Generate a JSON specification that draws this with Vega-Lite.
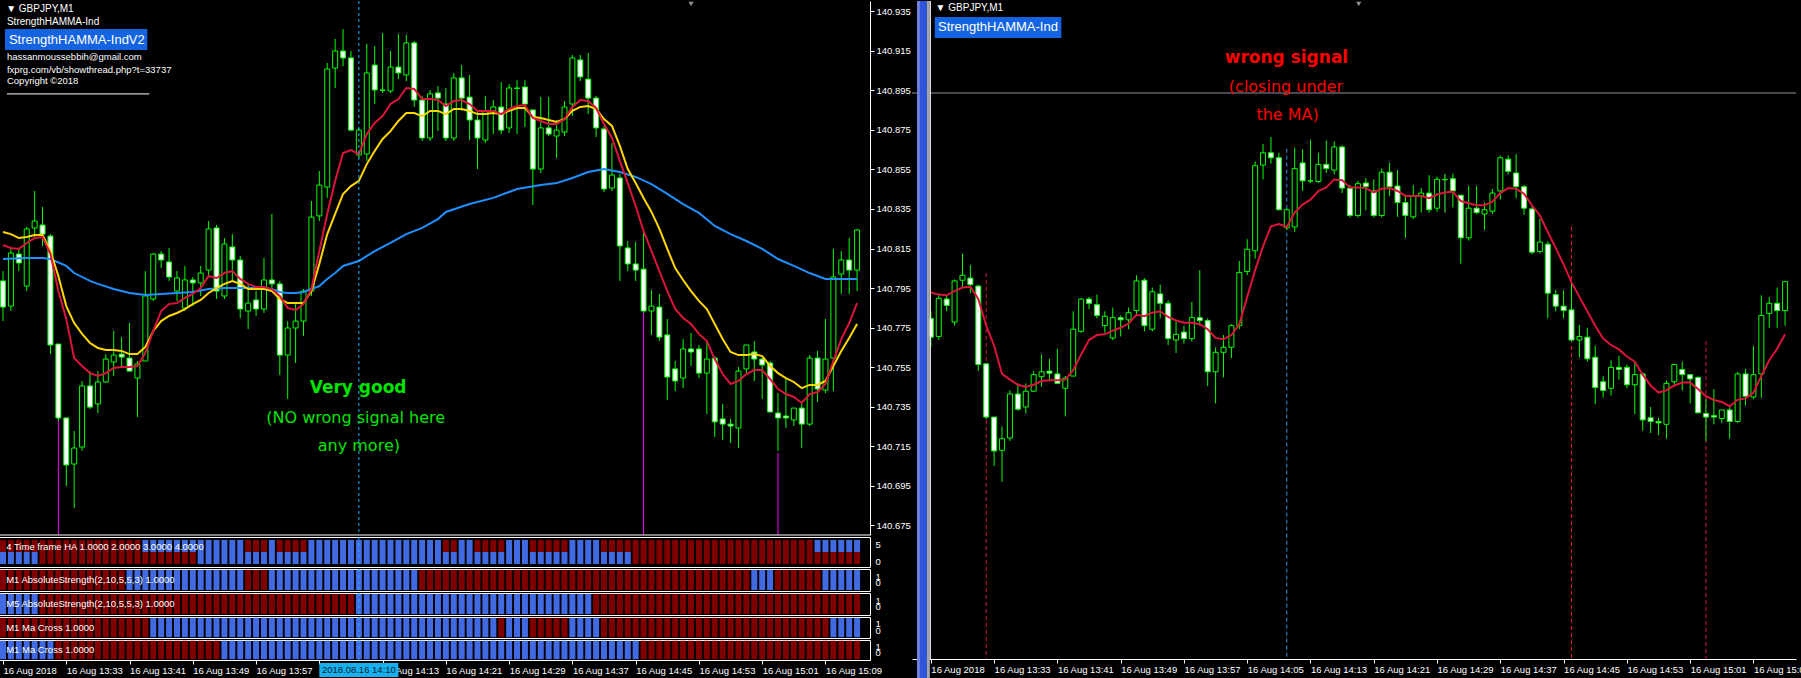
{
"$schema": "https://vega.github.io/schema/vega-lite/v6.json",
"background": "black",
"padding": {"left": -3, "top": 0, "right": 0, "bottom": 0},
"spacing": 0,
"config": {
  "view": {"stroke": null},
  "axis": {"grid": false, "labelColor": "white", "labelFont": "Liberation Sans", "labelFontSize": 9.5, "domainColor": "white", "tickColor": "white", "title": null},
  "text": {"font": "Liberation Sans"}
},
"datasets": {
"c": [
{"i":0,"o":140.7986,"h":140.8036,"l":140.7783,"c":140.7854,"u":"R","w":"B","p":"R","q":"B","r":"R","t":"B"},
{"i":1,"o":140.7859,"h":140.8153,"l":140.7834,"c":140.8127,"u":"R","w":"B","p":"R","q":"B","r":"R","t":"B"},
{"i":2,"o":140.8122,"h":140.8153,"l":140.8036,"c":140.8077,"u":"R","w":"B","p":"R","q":"B","r":"R","t":"B"},
{"i":3,"o":140.7960,"h":140.8259,"l":140.7935,"c":140.8249,"u":"R","w":"B","p":"R","q":"B","r":"R","t":"B"},
{"i":4,"o":140.8254,"h":140.8441,"l":140.8203,"c":140.8289,"u":"R","w":"B","p":"R","q":"B","r":"R","t":"B"},
{"i":5,"o":140.8269,"h":140.8360,"l":140.8163,"c":140.8223,"u":"R","w":"R","p":"R","q":"R","r":"R","t":"B"},
{"i":6,"o":140.8213,"h":140.8223,"l":140.7616,"c":140.7662,"u":"R","w":"R","p":"R","q":"R","r":"R","t":"B"},
{"i":7,"o":140.7667,"h":140.7667,"l":140.7278,"c":140.7293,"u":"R","w":"R","p":"R","q":"R","r":"R","t":"R"},
{"i":8,"o":140.7293,"h":140.7293,"l":140.6949,"c":140.7055,"u":"R","w":"R","p":"R","q":"R","r":"R","t":"R"},
{"i":9,"o":140.7060,"h":140.7227,"l":140.6838,"c":140.7141,"u":"R","w":"R","p":"R","q":"R","r":"R","t":"R"},
{"i":10,"o":140.7146,"h":140.7480,"l":140.7126,"c":140.7455,"u":"R","w":"R","p":"R","q":"R","r":"R","t":"R"},
{"i":11,"o":140.7455,"h":140.7530,"l":140.7338,"c":140.7348,"u":"R","w":"R","p":"R","q":"R","r":"R","t":"R"},
{"i":12,"o":140.7364,"h":140.7530,"l":140.7318,"c":140.7475,"u":"R","w":"R","p":"R","q":"R","r":"R","t":"R"},
{"i":13,"o":140.7475,"h":140.7616,"l":140.7470,"c":140.7591,"u":"R","w":"R","p":"R","q":"R","r":"R","t":"R"},
{"i":14,"o":140.7576,"h":140.7733,"l":140.7505,"c":140.7611,"u":"R","w":"R","p":"R","q":"R","r":"R","t":"R"},
{"i":15,"o":140.7616,"h":140.7702,"l":140.7556,"c":140.7601,"u":"R","w":"R","p":"R","q":"R","r":"R","t":"R"},
{"i":16,"o":140.7596,"h":140.7773,"l":140.7530,"c":140.7530,"u":"R","w":"R","p":"B","q":"R","r":"R","t":"R"},
{"i":17,"o":140.7495,"h":140.7581,"l":140.7298,"c":140.7566,"u":"R","w":"R","p":"B","q":"R","r":"R","t":"R"},
{"i":18,"o":140.7581,"h":140.8036,"l":140.7581,"c":140.7910,"u":"B","w":"R","p":"B","q":"R","r":"R","t":"R"},
{"i":19,"o":140.7895,"h":140.8127,"l":140.7885,"c":140.8122,"u":"B","w":"R","p":"B","q":"R","r":"B","t":"R"},
{"i":20,"o":140.8122,"h":140.8137,"l":140.8051,"c":140.8092,"u":"B","w":"R","p":"B","q":"R","r":"B","t":"R"},
{"i":21,"o":140.8082,"h":140.8153,"l":140.7986,"c":140.8006,"u":"B","w":"R","p":"B","q":"R","r":"B","t":"R"},
{"i":22,"o":140.7935,"h":140.8036,"l":140.7885,"c":140.8001,"u":"B","w":"R","p":"B","q":"R","r":"B","t":"R"},
{"i":23,"o":140.7849,"h":140.8062,"l":140.7834,"c":140.7991,"u":"B","w":"R","p":"B","q":"R","r":"B","t":"R"},
{"i":24,"o":140.7991,"h":140.8006,"l":140.7859,"c":140.7976,"u":"B","w":"R","p":"B","q":"R","r":"B","t":"R"},
{"i":25,"o":140.7976,"h":140.8062,"l":140.7910,"c":140.8026,"u":"B","w":"B","p":"B","q":"R","r":"B","t":"R"},
{"i":26,"o":140.8041,"h":140.8289,"l":140.8001,"c":140.8249,"u":"B","w":"B","p":"B","q":"R","r":"B","t":"R"},
{"i":27,"o":140.8254,"h":140.8269,"l":140.7895,"c":140.7935,"u":"B","w":"B","p":"B","q":"R","r":"B","t":"R"},
{"i":28,"o":140.7910,"h":140.8203,"l":140.7895,"c":140.8173,"u":"B","w":"B","p":"B","q":"R","r":"B","t":"B"},
{"i":29,"o":140.8158,"h":140.8223,"l":140.7986,"c":140.8092,"u":"B","w":"B","p":"B","q":"R","r":"B","t":"B"},
{"i":30,"o":140.8092,"h":140.8112,"l":140.7799,"c":140.7844,"u":"B","w":"B","p":"B","q":"R","r":"B","t":"B"},
{"i":31,"o":140.7834,"h":140.7971,"l":140.7743,"c":140.7874,"u":"R","w":"B","p":"R","q":"R","r":"B","t":"B"},
{"i":32,"o":140.7890,"h":140.7935,"l":140.7809,"c":140.7844,"u":"R","w":"B","p":"R","q":"R","r":"B","t":"B"},
{"i":33,"o":140.7844,"h":140.8102,"l":140.7824,"c":140.7991,"u":"R","w":"B","p":"R","q":"R","r":"B","t":"B"},
{"i":34,"o":140.7991,"h":140.8325,"l":140.7935,"c":140.7971,"u":"B","w":"B","p":"B","q":"R","r":"B","t":"B"},
{"i":35,"o":140.7971,"h":140.7986,"l":140.7510,"c":140.7611,"u":"R","w":"B","p":"B","q":"R","r":"B","t":"B"},
{"i":36,"o":140.7611,"h":140.7783,"l":140.7389,"c":140.7748,"u":"R","w":"B","p":"B","q":"R","r":"B","t":"B"},
{"i":37,"o":140.7748,"h":140.7869,"l":140.7571,"c":140.7783,"u":"R","w":"B","p":"B","q":"R","r":"B","t":"B"},
{"i":38,"o":140.7783,"h":140.7945,"l":140.7708,"c":140.7935,"u":"R","w":"B","p":"B","q":"R","r":"B","t":"B"},
{"i":39,"o":140.7935,"h":140.8390,"l":140.7910,"c":140.8309,"u":"B","w":"B","p":"B","q":"R","r":"B","t":"B"},
{"i":40,"o":140.8315,"h":140.8542,"l":140.8289,"c":140.8471,"u":"B","w":"B","p":"B","q":"R","r":"B","t":"B"},
{"i":41,"o":140.8461,"h":140.9088,"l":140.8406,"c":140.9058,"u":"B","w":"B","p":"B","q":"R","r":"B","t":"B"},
{"i":42,"o":140.9063,"h":140.9210,"l":140.8962,"c":140.9149,"u":"B","w":"B","p":"B","q":"R","r":"B","t":"B"},
{"i":43,"o":140.9149,"h":140.9260,"l":140.9073,"c":140.9114,"u":"B","w":"B","p":"B","q":"R","r":"B","t":"B"},
{"i":44,"o":140.9114,"h":140.9149,"l":140.8744,"c":140.8749,"u":"B","w":"B","p":"B","q":"R","r":"B","t":"B"},
{"i":45,"o":140.8623,"h":140.8760,"l":140.8608,"c":140.8749,"u":"B","w":"B","p":"B","q":"B","r":"B","t":"B"},
{"i":46,"o":140.8628,"h":140.9185,"l":140.8593,"c":140.9038,"u":"B","w":"B","p":"B","q":"B","r":"B","t":"B"},
{"i":47,"o":140.9078,"h":140.9174,"l":140.8881,"c":140.8952,"u":"B","w":"B","p":"B","q":"B","r":"B","t":"B"},
{"i":48,"o":140.8952,"h":140.9240,"l":140.8937,"c":140.8950,"u":"B","w":"B","p":"B","q":"B","r":"B","t":"B"},
{"i":49,"o":140.8947,"h":140.9149,"l":140.8937,"c":140.9068,"u":"B","w":"B","p":"B","q":"B","r":"B","t":"B"},
{"i":50,"o":140.9068,"h":140.9235,"l":140.9007,"c":140.9038,"u":"B","w":"B","p":"B","q":"B","r":"B","t":"B"},
{"i":51,"o":140.9028,"h":140.9230,"l":140.8997,"c":140.9190,"u":"B","w":"B","p":"B","q":"B","r":"B","t":"B"},
{"i":52,"o":140.9190,"h":140.9200,"l":140.8866,"c":140.8901,"u":"B","w":"B","p":"B","q":"B","r":"B","t":"B"},
{"i":53,"o":140.8901,"h":140.8922,"l":140.8694,"c":140.8709,"u":"B","w":"B","p":"R","q":"B","r":"B","t":"B"},
{"i":54,"o":140.8709,"h":140.8952,"l":140.8694,"c":140.8932,"u":"B","w":"B","p":"R","q":"B","r":"B","t":"B"},
{"i":55,"o":140.8937,"h":140.8972,"l":140.8744,"c":140.8911,"u":"B","w":"B","p":"R","q":"B","r":"B","t":"B"},
{"i":56,"o":140.8881,"h":140.8962,"l":140.8694,"c":140.8709,"u":"R","w":"B","p":"R","q":"B","r":"B","t":"B"},
{"i":57,"o":140.8709,"h":140.9038,"l":140.8694,"c":140.9013,"u":"R","w":"B","p":"R","q":"B","r":"B","t":"B"},
{"i":58,"o":140.9013,"h":140.9078,"l":140.8846,"c":140.8911,"u":"B","w":"B","p":"R","q":"B","r":"B","t":"B"},
{"i":59,"o":140.8916,"h":140.9028,"l":140.8699,"c":140.8800,"u":"B","w":"B","p":"R","q":"B","r":"B","t":"B"},
{"i":60,"o":140.8800,"h":140.8846,"l":140.8552,"c":140.8709,"u":"R","w":"B","p":"R","q":"B","r":"B","t":"B"},
{"i":61,"o":140.8699,"h":140.8922,"l":140.8684,"c":140.8846,"u":"R","w":"B","p":"R","q":"B","r":"B","t":"B"},
{"i":62,"o":140.8846,"h":140.8901,"l":140.8729,"c":140.8866,"u":"R","w":"B","p":"R","q":"B","r":"B","t":"B"},
{"i":63,"o":140.8866,"h":140.8992,"l":140.8729,"c":140.8749,"u":"R","w":"B","p":"R","q":"B","r":"R","t":"B"},
{"i":64,"o":140.8760,"h":140.8982,"l":140.8734,"c":140.8962,"u":"B","w":"B","p":"R","q":"B","r":"B","t":"B"},
{"i":65,"o":140.8962,"h":140.9002,"l":140.8729,"c":140.8960,"u":"B","w":"B","p":"R","q":"B","r":"B","t":"B"},
{"i":66,"o":140.8967,"h":140.9002,"l":140.8765,"c":140.8881,"u":"B","w":"B","p":"R","q":"B","r":"B","t":"B"},
{"i":67,"o":140.8851,"h":140.8851,"l":140.8370,"c":140.8552,"u":"R","w":"B","p":"R","q":"B","r":"R","t":"B"},
{"i":68,"o":140.8552,"h":140.8916,"l":140.8532,"c":140.8760,"u":"R","w":"B","p":"R","q":"B","r":"R","t":"B"},
{"i":69,"o":140.8760,"h":140.8916,"l":140.8719,"c":140.8729,"u":"R","w":"B","p":"R","q":"B","r":"R","t":"B"},
{"i":70,"o":140.8719,"h":140.8800,"l":140.8608,"c":140.8749,"u":"R","w":"B","p":"R","q":"B","r":"R","t":"B"},
{"i":71,"o":140.8739,"h":140.8896,"l":140.8719,"c":140.8866,"u":"R","w":"B","p":"R","q":"B","r":"R","t":"B"},
{"i":72,"o":140.8881,"h":140.9129,"l":140.8820,"c":140.9114,"u":"B","w":"B","p":"R","q":"B","r":"B","t":"B"},
{"i":73,"o":140.9104,"h":140.9129,"l":140.8997,"c":140.9018,"u":"B","w":"B","p":"R","q":"B","r":"B","t":"B"},
{"i":74,"o":140.9007,"h":140.9139,"l":140.8830,"c":140.8911,"u":"B","w":"B","p":"R","q":"B","r":"B","t":"B"},
{"i":75,"o":140.8911,"h":140.8922,"l":140.8714,"c":140.8760,"u":"B","w":"B","p":"R","q":"R","r":"B","t":"B"},
{"i":76,"o":140.8755,"h":140.8770,"l":140.8436,"c":140.8451,"u":"R","w":"B","p":"R","q":"R","r":"R","t":"B"},
{"i":77,"o":140.8456,"h":140.8684,"l":140.8441,"c":140.8522,"u":"R","w":"B","p":"R","q":"R","r":"R","t":"B"},
{"i":78,"o":140.8507,"h":140.8527,"l":140.7986,"c":140.8163,"u":"R","w":"B","p":"R","q":"R","r":"R","t":"B"},
{"i":79,"o":140.8153,"h":140.8188,"l":140.8036,"c":140.8072,"u":"R","w":"B","p":"R","q":"R","r":"R","t":"B"},
{"i":80,"o":140.8072,"h":140.8183,"l":140.7986,"c":140.8041,"u":"R","w":"R","p":"R","q":"R","r":"R","t":"B"},
{"i":81,"o":140.8046,"h":140.8234,"l":140.7824,"c":140.7834,"u":"R","w":"R","p":"R","q":"R","r":"R","t":"R"},
{"i":82,"o":140.7834,"h":140.7940,"l":140.7713,"c":140.7859,"u":"R","w":"R","p":"R","q":"R","r":"R","t":"R"},
{"i":83,"o":140.7854,"h":140.7920,"l":140.7682,"c":140.7702,"u":"R","w":"R","p":"R","q":"R","r":"R","t":"R"},
{"i":84,"o":140.7713,"h":140.7794,"l":140.7384,"c":140.7500,"u":"R","w":"R","p":"R","q":"R","r":"R","t":"R"},
{"i":85,"o":140.7541,"h":140.7581,"l":140.7429,"c":140.7480,"u":"R","w":"R","p":"R","q":"R","r":"R","t":"R"},
{"i":86,"o":140.7495,"h":140.7692,"l":140.7444,"c":140.7642,"u":"R","w":"R","p":"R","q":"R","r":"R","t":"R"},
{"i":87,"o":140.7642,"h":140.7723,"l":140.7556,"c":140.7627,"u":"R","w":"R","p":"R","q":"R","r":"R","t":"R"},
{"i":88,"o":140.7642,"h":140.7662,"l":140.7495,"c":140.7520,"u":"R","w":"R","p":"R","q":"R","r":"R","t":"R"},
{"i":89,"o":140.7520,"h":140.7682,"l":140.7313,"c":140.7591,"u":"R","w":"R","p":"R","q":"R","r":"R","t":"R"},
{"i":90,"o":140.7596,"h":140.7606,"l":140.7197,"c":140.7273,"u":"R","w":"R","p":"R","q":"R","r":"R","t":"R"},
{"i":91,"o":140.7288,"h":140.7364,"l":140.7181,"c":140.7262,"u":"R","w":"R","p":"R","q":"R","r":"R","t":"R"},
{"i":92,"o":140.7262,"h":140.7288,"l":140.7166,"c":140.7252,"u":"R","w":"R","p":"R","q":"R","r":"R","t":"R"},
{"i":93,"o":140.7242,"h":140.7551,"l":140.7141,"c":140.7530,"u":"R","w":"R","p":"R","q":"R","r":"R","t":"R"},
{"i":94,"o":140.7541,"h":140.7662,"l":140.7520,"c":140.7662,"u":"R","w":"R","p":"R","q":"R","r":"R","t":"R"},
{"i":95,"o":140.7627,"h":140.7682,"l":140.7480,"c":140.7591,"u":"R","w":"R","p":"B","q":"R","r":"R","t":"R"},
{"i":96,"o":140.7591,"h":140.7596,"l":140.7389,"c":140.7561,"u":"R","w":"R","p":"B","q":"R","r":"R","t":"R"},
{"i":97,"o":140.7571,"h":140.7581,"l":140.7323,"c":140.7323,"u":"R","w":"R","p":"B","q":"R","r":"R","t":"R"},
{"i":98,"o":140.7318,"h":140.7419,"l":140.7126,"c":140.7293,"u":"R","w":"R","p":"R","q":"R","r":"R","t":"R"},
{"i":99,"o":140.7303,"h":140.7490,"l":140.7242,"c":140.7293,"u":"R","w":"R","p":"R","q":"R","r":"R","t":"R"},
{"i":100,"o":140.7283,"h":140.7338,"l":140.7252,"c":140.7343,"u":"R","w":"R","p":"R","q":"R","r":"R","t":"R"},
{"i":101,"o":140.7343,"h":140.7364,"l":140.7141,"c":140.7262,"u":"R","w":"R","p":"R","q":"R","r":"R","t":"R"},
{"i":102,"o":140.7262,"h":140.7611,"l":140.7252,"c":140.7596,"u":"R","w":"R","p":"R","q":"R","r":"R","t":"R"},
{"i":103,"o":140.7596,"h":140.7632,"l":140.7374,"c":140.7439,"u":"B","w":"R","p":"R","q":"R","r":"R","t":"R"},
{"i":104,"o":140.7434,"h":140.7794,"l":140.7419,"c":140.7591,"u":"B","w":"R","p":"B","q":"R","r":"R","t":"R"},
{"i":105,"o":140.7596,"h":140.8148,"l":140.7429,"c":140.8006,"u":"B","w":"R","p":"B","q":"R","r":"B","t":"R"},
{"i":106,"o":140.8021,"h":140.8137,"l":140.7920,"c":140.8092,"u":"B","w":"R","p":"B","q":"R","r":"B","t":"R"},
{"i":107,"o":140.8092,"h":140.8203,"l":140.7920,"c":140.8041,"u":"B","w":"R","p":"B","q":"R","r":"B","t":"R"},
{"i":108,"o":140.8041,"h":140.8249,"l":140.7935,"c":140.8244,"u":"B","w":"R","p":"B","q":"R","r":"B","t":"R"}
],
"red": [
{"i":0,"v":140.8168},{"i":1,"v":140.8153},{"i":2,"v":140.8148},{"i":3,"v":140.8178},{"i":4,"v":140.8203},{"i":5,"v":140.8208},{"i":6,"v":140.8122},{"i":7,"v":140.7935},{"i":8,"v":140.7794},{"i":9,"v":140.7596},{"i":10,"v":140.7556},{"i":11,"v":140.7520},{"i":12,"v":140.7505},{"i":13,"v":140.7520},{"i":14,"v":140.7546},{"i":15,"v":140.7551},{"i":16,"v":140.7551},{"i":17,"v":140.7556},{"i":18,"v":140.7622},{"i":19,"v":140.7733},{"i":20,"v":140.7834},{"i":21,"v":140.7869},{"i":22,"v":140.7874},{"i":23,"v":140.7900},{"i":24,"v":140.7920},{"i":25,"v":140.7950},{"i":26,"v":140.8011},{"i":27,"v":140.8001},{"i":28,"v":140.8026},{"i":29,"v":140.8036},{"i":30,"v":140.7996},{"i":31,"v":140.7971},{"i":32,"v":140.7955},{"i":33,"v":140.7955},{"i":34,"v":140.7945},{"i":35,"v":140.7910},{"i":36,"v":140.7849},{"i":37,"v":140.7839},{"i":38,"v":140.7869},{"i":39,"v":140.7945},{"i":40,"v":140.8137},{"i":41,"v":140.8325},{"i":42,"v":140.8492},{"i":43,"v":140.8633},{"i":44,"v":140.8648},{"i":45,"v":140.8628},{"i":46,"v":140.8729},{"i":47,"v":140.8785},{"i":48,"v":140.8820},{"i":49,"v":140.8881},{"i":50,"v":140.8906},{"i":51,"v":140.8962},{"i":52,"v":140.8957},{"i":53,"v":140.8906},{"i":54,"v":140.8906},{"i":55,"v":140.8901},{"i":56,"v":140.8871},{"i":57,"v":140.8896},{"i":58,"v":140.8901},{"i":59,"v":140.8881},{"i":60,"v":140.8846},{"i":61,"v":140.8846},{"i":62,"v":140.8846},{"i":63,"v":140.8830},{"i":64,"v":140.8856},{"i":65,"v":140.8871},{"i":66,"v":140.8876},{"i":67,"v":140.8810},{"i":68,"v":140.8795},{"i":69,"v":140.8780},{"i":70,"v":140.8780},{"i":71,"v":140.8805},{"i":72,"v":140.8866},{"i":73,"v":140.8901},{"i":74,"v":140.8896},{"i":75,"v":140.8861},{"i":76,"v":140.8780},{"i":77,"v":140.8709},{"i":78,"v":140.8593},{"i":79,"v":140.8481},{"i":80,"v":140.8365},{"i":81,"v":140.8239},{"i":82,"v":140.8137},{"i":83,"v":140.8036},{"i":84,"v":140.7935},{"i":85,"v":140.7844},{"i":86,"v":140.7799},{"i":87,"v":140.7768},{"i":88,"v":140.7718},{"i":89,"v":140.7682},{"i":90,"v":140.7591},{"i":91,"v":140.7515},{"i":92,"v":140.7465},{"i":93,"v":140.7480},{"i":94,"v":140.7515},{"i":95,"v":140.7535},{"i":96,"v":140.7535},{"i":97,"v":140.7490},{"i":98,"v":140.7439},{"i":99,"v":140.7414},{"i":100,"v":140.7399},{"i":101,"v":140.7369},{"i":102,"v":140.7414},{"i":103,"v":140.7424},{"i":104,"v":140.7465},{"i":105,"v":140.7581},{"i":106,"v":140.7692},{"i":107,"v":140.7773},{"i":108,"v":140.7874}
],
"yel": [
{"i":0,"v":140.8234},{"i":1,"v":140.8223},{"i":2,"v":140.8203},{"i":3,"v":140.8208},{"i":4,"v":140.8218},{"i":5,"v":140.8218},{"i":6,"v":140.8137},{"i":7,"v":140.8011},{"i":8,"v":140.7859},{"i":9,"v":140.7773},{"i":10,"v":140.7718},{"i":11,"v":140.7672},{"i":12,"v":140.7647},{"i":13,"v":140.7637},{"i":14,"v":140.7637},{"i":15,"v":140.7632},{"i":16,"v":140.7616},{"i":17,"v":140.7616},{"i":18,"v":140.7652},{"i":19,"v":140.7733},{"i":20,"v":140.7783},{"i":21,"v":140.7809},{"i":22,"v":140.7824},{"i":23,"v":140.7844},{"i":24,"v":140.7869},{"i":25,"v":140.7890},{"i":26,"v":140.7925},{"i":27,"v":140.7950},{"i":28,"v":140.7971},{"i":29,"v":140.7986},{"i":30,"v":140.7971},{"i":31,"v":140.7945},{"i":32,"v":140.7945},{"i":33,"v":140.7945},{"i":34,"v":140.7935},{"i":35,"v":140.7895},{"i":36,"v":140.7874},{"i":37,"v":140.7874},{"i":38,"v":140.7874},{"i":39,"v":140.7935},{"i":40,"v":140.8072},{"i":41,"v":140.8223},{"i":42,"v":140.8325},{"i":43,"v":140.8426},{"i":44,"v":140.8466},{"i":45,"v":140.8492},{"i":46,"v":140.8577},{"i":47,"v":140.8643},{"i":48,"v":140.8704},{"i":49,"v":140.8744},{"i":50,"v":140.8795},{"i":51,"v":140.8835},{"i":52,"v":140.8835},{"i":53,"v":140.8820},{"i":54,"v":140.8846},{"i":55,"v":140.8846},{"i":56,"v":140.8830},{"i":57,"v":140.8856},{"i":58,"v":140.8856},{"i":59,"v":140.8846},{"i":60,"v":140.8830},{"i":61,"v":140.8830},{"i":62,"v":140.8835},{"i":63,"v":140.8830},{"i":64,"v":140.8846},{"i":65,"v":140.8861},{"i":66,"v":140.8861},{"i":67,"v":140.8815},{"i":68,"v":140.8810},{"i":69,"v":140.8800},{"i":70,"v":140.8790},{"i":71,"v":140.8805},{"i":72,"v":140.8846},{"i":73,"v":140.8866},{"i":74,"v":140.8871},{"i":75,"v":140.8856},{"i":76,"v":140.8805},{"i":77,"v":140.8770},{"i":78,"v":140.8669},{"i":79,"v":140.8552},{"i":80,"v":140.8481},{"i":81,"v":140.8406},{"i":82,"v":140.8335},{"i":83,"v":140.8249},{"i":84,"v":140.8148},{"i":85,"v":140.8051},{"i":86,"v":140.7991},{"i":87,"v":140.7935},{"i":88,"v":140.7885},{"i":89,"v":140.7844},{"i":90,"v":140.7768},{"i":91,"v":140.7692},{"i":92,"v":140.7627},{"i":93,"v":140.7611},{"i":94,"v":140.7611},{"i":95,"v":140.7616},{"i":96,"v":140.7606},{"i":97,"v":140.7556},{"i":98,"v":140.7520},{"i":99,"v":140.7495},{"i":100,"v":140.7475},{"i":101,"v":140.7444},{"i":102,"v":140.7460},{"i":103,"v":140.7460},{"i":104,"v":140.7480},{"i":105,"v":140.7556},{"i":106,"v":140.7632},{"i":107,"v":140.7697},{"i":108,"v":140.7768}
],
"blu": [
{"i":0,"v":140.8097},{"i":3,"v":140.8102},{"i":5,"v":140.8102},{"i":6,"v":140.8097},{"i":8,"v":140.8062},{"i":9,"v":140.8026},{"i":11,"v":140.7986},{"i":12,"v":140.7971},{"i":14,"v":140.7945},{"i":16,"v":140.7925},{"i":18,"v":140.7915},{"i":20,"v":140.7920},{"i":22,"v":140.7925},{"i":24,"v":140.7930},{"i":26,"v":140.7945},{"i":28,"v":140.7950},{"i":30,"v":140.7950},{"i":32,"v":140.7950},{"i":34,"v":140.7945},{"i":35,"v":140.7930},{"i":36,"v":140.7925},{"i":37,"v":140.7925},{"i":38,"v":140.7930},{"i":39,"v":140.7945},{"i":40,"v":140.7960},{"i":41,"v":140.7996},{"i":42,"v":140.8026},{"i":43,"v":140.8062},{"i":45,"v":140.8087},{"i":47,"v":140.8137},{"i":49,"v":140.8178},{"i":51,"v":140.8223},{"i":53,"v":140.8254},{"i":55,"v":140.8299},{"i":56,"v":140.8335},{"i":59,"v":140.8375},{"i":62,"v":140.8406},{"i":65,"v":140.8451},{"i":68,"v":140.8471},{"i":70,"v":140.8481},{"i":72,"v":140.8507},{"i":74,"v":140.8537},{"i":76,"v":140.8552},{"i":78,"v":140.8537},{"i":80,"v":140.8512},{"i":82,"v":140.8476},{"i":84,"v":140.8426},{"i":86,"v":140.8375},{"i":88,"v":140.8330},{"i":90,"v":140.8264},{"i":92,"v":140.8223},{"i":94,"v":140.8188},{"i":96,"v":140.8148},{"i":98,"v":140.8097},{"i":100,"v":140.8062},{"i":102,"v":140.8026},{"i":104,"v":140.7996},{"i":106,"v":140.7996},{"i":108,"v":140.7996}
],
"mag": [{"i":7,"top":140.7598},{"i":81,"top":140.7927},{"i":98,"top":140.7117}],
"sig": [{"i":7,"top":140.8305},{"i":81,"top":140.8628},{"i":98,"top":140.7827}]
},
"hconcat": [
{
"spacing": 0,
"vconcat": [
{
"width": 872, "height": 534,
"layer": [
{"data": {"name": "mag"}, "mark": {"type": "rule", "color": "#ff00ff", "strokeWidth": 1},
 "encoding": {"x": {"field": "i", "type": "quantitative", "scale": {"domain": [0, 109], "nice": false, "zero": false}, "axis": null},
  "y": {"field": "top", "type": "quantitative", "scale": {"domain": [140.6701, 140.9402], "nice": false, "zero": false},
   "axis": {"orient": "right", "values": [140.675,140.695,140.715,140.735,140.755,140.775,140.795,140.815,140.835,140.855,140.875,140.895,140.915,140.935], "format": ".3f", "tickSize": 4, "labelPadding": 2, "minExtent": 40, "maxExtent": 40}},
  "y2": {"datum": 140.6701}}},
{"data": {"name": "c"}, "mark": {"type": "rule", "color": "#00ff00", "strokeWidth": 1, "clip": true},
 "encoding": {"x": {"field": "i", "type": "quantitative"}, "y": {"field": "l", "type": "quantitative"}, "y2": {"field": "h"}}},
{"data": {"name": "c"}, "mark": {"type": "bar", "width": 5, "stroke": "#00ff00", "strokeWidth": 1, "clip": true},
 "encoding": {"x": {"field": "i", "type": "quantitative"}, "y": {"field": "o", "type": "quantitative"}, "y2": {"field": "c"},
  "fill": {"condition": {"test": "datum.c < datum.o", "value": "white"}, "value": "black"}}},
{"data": {"name": "blu"}, "mark": {"type": "line", "color": "#1e90ff", "strokeWidth": 2, "clip": true},
 "encoding": {"x": {"field": "i", "type": "quantitative"}, "y": {"field": "v", "type": "quantitative"}}},
{"data": {"name": "yel"}, "mark": {"type": "line", "color": "#ffd700", "strokeWidth": 2, "clip": true},
 "encoding": {"x": {"field": "i", "type": "quantitative"}, "y": {"field": "v", "type": "quantitative"}}},
{"data": {"name": "red"}, "mark": {"type": "line", "color": "#dc143c", "strokeWidth": 2, "clip": true},
 "encoding": {"x": {"field": "i", "type": "quantitative"}, "y": {"field": "v", "type": "quantitative"}}},
{"data": {"values": [{}]}, "mark": {"type": "rule", "color": "#1eb4ff", "strokeDash": [3, 3]},
 "encoding": {"x": {"datum": 45}}},
{"data": {"values": [{}]}, "mark": {"type": "rule", "color": "white"},
 "encoding": {"y": {"datum": 140.6701}}},
{"data": {"values": [{}]}, "mark": {"type": "point", "shape": "triangle-down", "filled": true, "color": "#8a8f99", "size": 26, "opacity": 1},
 "encoding": {"x": {"datum": 87}, "y": {"datum": 140.9387}}},
{"data": {"values": [{}]}, "mark": {"type": "rect", "color": "#1463e0"},
 "encoding": {"x": {"datum": 0.25}, "x2": {"datum": 18.25}, "y": {"datum": 140.926}, "y2": {"datum": 140.9154}}},
{"data": {"values": [{}]}, "mark": {"type": "text", "color": "white", "fontSize": 13, "align": "left", "baseline": "middle"},
 "encoding": {"x": {"datum": 0.75}, "y": {"datum": 140.9207}, "text": {"value": "StrengthHAMMA-IndV2"}}},
{"data": {"values": [{}]}, "mark": {"type": "text", "color": "white", "fontSize": 10, "align": "left", "baseline": "middle"},
 "encoding": {"x": {"datum": 0.4}, "y": {"datum": 140.9364}, "text": {"value": "▼  GBPJPY,M1"}}},
{"data": {"values": [{}]}, "mark": {"type": "text", "color": "white", "fontSize": 10, "align": "left", "baseline": "middle"},
 "encoding": {"x": {"datum": 0.5}, "y": {"datum": 140.9296}, "text": {"value": "StrengthHAMMA-Ind"}}},
{"data": {"values": [{}]}, "mark": {"type": "text", "color": "white", "fontSize": 9.5, "align": "left", "baseline": "middle"},
 "encoding": {"x": {"datum": 0.5}, "y": {"datum": 140.9119}, "text": {"value": "hassanmoussebbih@gmail.com"}}},
{"data": {"values": [{}]}, "mark": {"type": "text", "color": "white", "fontSize": 9.5, "align": "left", "baseline": "middle"},
 "encoding": {"x": {"datum": 0.5}, "y": {"datum": 140.9053}, "text": {"value": "fxprg.com/vb/showthread.php?t=33737"}}},
{"data": {"values": [{}]}, "mark": {"type": "text", "color": "white", "fontSize": 9.5, "align": "left", "baseline": "middle"},
 "encoding": {"x": {"datum": 0.5}, "y": {"datum": 140.8997}, "text": {"value": "Copyright ©2018"}}},
{"data": {"values": [{}]}, "mark": {"type": "rule", "color": "white", "strokeWidth": 1},
 "encoding": {"x": {"datum": 0.5}, "x2": {"datum": 18.5}, "y": {"datum": 140.8932}}},
{"data": {"values": [{}]}, "mark": {"type": "text", "color": "#00e600", "fontSize": 17, "fontWeight": "bold", "font": "DejaVu Sans", "align": "center", "baseline": "middle"},
 "encoding": {"x": {"datum": 44.9}, "y": {"datum": 140.7444}, "text": {"value": "Very good"}}},
{"data": {"values": [{}]}, "mark": {"type": "text", "color": "#00e600", "fontSize": 16, "font": "DejaVu Sans", "align": "center", "baseline": "middle"},
 "encoding": {"x": {"datum": 44.6}, "y": {"datum": 140.7293}, "text": {"value": "(NO wrong signal here"}}},
{"data": {"values": [{}]}, "mark": {"type": "text", "color": "#00e600", "fontSize": 16, "font": "DejaVu Sans", "align": "center", "baseline": "middle"},
 "encoding": {"x": {"datum": 45}, "y": {"datum": 140.7151}, "text": {"value": "any more)"}}}
]
},
{
"width": 872, "height": 30, "view": {"stroke": "white"},
"layer": [
{"data": {"name": "c"}, "mark": {"type": "bar", "width": 6, "clip": true},
 "encoding": {"x": {"field": "i", "type": "quantitative", "scale": {"domain": [0, 109], "nice": false, "zero": false}, "axis": null},
  "y": {"datum": 0, "type": "quantitative", "scale": {"domain": [-0.6, 5.6], "nice": false, "zero": false},
   "axis": {"orient": "right", "values": [0.6, 4.15], "labelExpr": "datum.value > 2 ? '5' : '0'", "domain": false, "ticks": false, "labelPadding": 5, "minExtent": 40, "maxExtent": 40}},
  "y2": {"datum": 2.5},
  "color": {"field": "w", "type": "nominal", "scale": {"domain": ["B", "R"], "range": ["#4169e1", "#800000"]}, "legend": null}}},
{"data": {"name": "c"}, "mark": {"type": "bar", "width": 6, "clip": true},
 "encoding": {"x": {"field": "i", "type": "quantitative"}, "y": {"datum": 2.5, "type": "quantitative"}, "y2": {"datum": 5},
  "color": {"field": "u", "type": "nominal", "legend": null}}},
{"data": {"values": [{}]}, "mark": {"type": "rule", "color": "#1eb4ff", "strokeDash": [3, 3]}, "encoding": {"x": {"datum": 45}}},
{"data": {"values": [{}]}, "mark": {"type": "text", "color": "white", "fontSize": 9.5, "align": "left", "baseline": "middle"},
 "encoding": {"x": {"datum": 0.4}, "y": {"datum": 3.6}, "text": {"value": "4 Time frame HA  1.0000 2.0000 3.0000 4.0000"}}}
]
},
{
"width": 872, "height": 22, "view": {"stroke": "white"},
"layer": [
{"data": {"name": "c"}, "mark": {"type": "bar", "width": 6, "clip": true},
 "encoding": {"x": {"field": "i", "type": "quantitative", "scale": {"domain": [0, 109], "nice": false, "zero": false}, "axis": null},
  "y": {"datum": 0.04, "type": "quantitative", "scale": {"domain": [0, 1], "nice": false, "zero": false},
   "axis": {"orient": "right", "values": [0.38, 0.68], "labelExpr": "datum.value > 0.5 ? '1' : '0'", "domain": false, "ticks": false, "labelPadding": 5, "minExtent": 40, "maxExtent": 40}},
  "y2": {"datum": 0.96},
  "color": {"field": "p", "type": "nominal", "scale": {"domain": ["B", "R"], "range": ["#4169e1", "#800000"]}, "legend": null}}},
{"data": {"values": [{}]}, "mark": {"type": "rule", "color": "#1eb4ff", "strokeDash": [3, 3]}, "encoding": {"x": {"datum": 45}}},
{"data": {"values": [{}]}, "mark": {"type": "text", "color": "white", "fontSize": 9.5, "align": "left", "baseline": "middle"},
 "encoding": {"x": {"datum": 0.4}, "y": {"datum": 0.5}, "text": {"value": "M1 AbsoluteStrength(2,10,5,5,3) 1.0000"}}}
]
},
{
"width": 872, "height": 22, "view": {"stroke": "white"},
"layer": [
{"data": {"name": "c"}, "mark": {"type": "bar", "width": 6, "clip": true},
 "encoding": {"x": {"field": "i", "type": "quantitative", "scale": {"domain": [0, 109], "nice": false, "zero": false}, "axis": null},
  "y": {"datum": 0.04, "type": "quantitative", "scale": {"domain": [0, 1], "nice": false, "zero": false},
   "axis": {"orient": "right", "values": [0.38, 0.68], "labelExpr": "datum.value > 0.5 ? '1' : '0'", "domain": false, "ticks": false, "labelPadding": 5, "minExtent": 40, "maxExtent": 40}},
  "y2": {"datum": 0.96},
  "color": {"field": "q", "type": "nominal", "scale": {"domain": ["B", "R"], "range": ["#4169e1", "#800000"]}, "legend": null}}},
{"data": {"values": [{}]}, "mark": {"type": "rule", "color": "#1eb4ff", "strokeDash": [3, 3]}, "encoding": {"x": {"datum": 45}}},
{"data": {"values": [{}]}, "mark": {"type": "text", "color": "white", "fontSize": 9.5, "align": "left", "baseline": "middle"},
 "encoding": {"x": {"datum": 0.4}, "y": {"datum": 0.5}, "text": {"value": "M5 AbsoluteStrength(2,10,5,5,3) 1.0000"}}}
]
},
{
"width": 872, "height": 21, "view": {"stroke": "white"},
"layer": [
{"data": {"name": "c"}, "mark": {"type": "bar", "width": 6, "clip": true},
 "encoding": {"x": {"field": "i", "type": "quantitative", "scale": {"domain": [0, 109], "nice": false, "zero": false}, "axis": null},
  "y": {"datum": 0.04, "type": "quantitative", "scale": {"domain": [0, 1], "nice": false, "zero": false},
   "axis": {"orient": "right", "values": [0.38, 0.68], "labelExpr": "datum.value > 0.5 ? '1' : '0'", "domain": false, "ticks": false, "labelPadding": 5, "minExtent": 40, "maxExtent": 40}},
  "y2": {"datum": 0.96},
  "color": {"field": "r", "type": "nominal", "scale": {"domain": ["B", "R"], "range": ["#4169e1", "#800000"]}, "legend": null}}},
{"data": {"values": [{}]}, "mark": {"type": "rule", "color": "#1eb4ff", "strokeDash": [3, 3]}, "encoding": {"x": {"datum": 45}}},
{"data": {"values": [{}]}, "mark": {"type": "text", "color": "white", "fontSize": 9.5, "align": "left", "baseline": "middle"},
 "encoding": {"x": {"datum": 0.4}, "y": {"datum": 0.5}, "text": {"value": "M1  Ma Cross 1.0000"}}}
]
},
{
"width": 872, "height": 20, "view": {"stroke": "white"},
"layer": [
{"data": {"name": "c"}, "mark": {"type": "bar", "width": 6, "clip": true},
 "encoding": {"x": {"field": "i", "type": "quantitative", "scale": {"domain": [0, 109], "nice": false, "zero": false},
   "axis": {"values": [0,8,16,24,32,40,48,56,64,72,80,88,96,104], "labelExpr": "datum.value == 0 ? '16 Aug 2018' : '16 Aug ' + (13 + floor((25 + datum.value) / 60)) + ':' + ((25 + datum.value) % 60 < 10 ? '0' : '') + ((25 + datum.value) % 60)", "labelAlign": "left", "labelFlush": false, "labelOverlap": false, "tickSize": 4, "labelPadding": 1, "labelFontSize": 9.5}},
  "y": {"datum": 0.04, "type": "quantitative", "scale": {"domain": [0, 1], "nice": false, "zero": false},
   "axis": {"orient": "right", "values": [0.38, 0.68], "labelExpr": "datum.value > 0.5 ? '1' : '0'", "domain": false, "ticks": false, "labelPadding": 5, "minExtent": 40, "maxExtent": 40}},
  "y2": {"datum": 0.96},
  "color": {"field": "t", "type": "nominal", "scale": {"domain": ["B", "R"], "range": ["#4169e1", "#800000"]}, "legend": null}}},
{"data": {"values": [{}]}, "mark": {"type": "rule", "color": "#1eb4ff", "strokeDash": [3, 3]}, "encoding": {"x": {"datum": 45}}},
{"data": {"values": [{}]}, "mark": {"type": "text", "color": "white", "fontSize": 9.5, "align": "left", "baseline": "middle"},
 "encoding": {"x": {"datum": 0.4}, "y": {"datum": 0.5}, "text": {"value": "M1  Ma Cross 1.0000"}}},
{"data": {"values": [{}]}, "mark": {"type": "rect", "color": "#16b0ee"},
 "encoding": {"x": {"datum": 40}, "x2": {"datum": 50}, "y": {"datum": -0.15}, "y2": {"datum": -0.85}}},
{"data": {"values": [{}]}, "mark": {"type": "text", "color": "#0a2030", "fontSize": 9.5, "align": "center", "baseline": "middle"},
 "encoding": {"x": {"datum": 45}, "y": {"datum": -0.5}, "text": {"value": "2018.08.16 14:10"}}}
]
}
]
},
{
"width": 884, "height": 658,
"layer": [
{"data": {"values": [{}]}, "mark": {"type": "rule", "color": "#8c93a0", "strokeWidth": 1},
 "encoding": {"y": {"datum": 140.9569, "type": "quantitative", "scale": {"domain": [140.5594, 141.0215], "nice": false, "zero": false}, "axis": null}}},
{"data": {"name": "sig"}, "mark": {"type": "rule", "color": "#dc143c", "strokeDash": [4, 3]},
 "encoding": {"x": {"field": "i", "type": "quantitative", "scale": {"domain": [-1.75, 108.75], "nice": false, "zero": false},
   "axis": {"values": [0,8,16,24,32,40,48,56,64,72,80,88,96,104], "labelExpr": "datum.value == 0 ? '16 Aug 2018' : '16 Aug ' + (13 + floor((25 + datum.value) / 60)) + ':' + ((25 + datum.value) % 60 < 10 ? '0' : '') + ((25 + datum.value) % 60)", "labelAlign": "left", "labelFlush": false, "labelOverlap": false, "tickSize": 4, "labelPadding": 1, "labelFontSize": 9.5}},
  "y": {"field": "top", "type": "quantitative"}, "y2": {"datum": 140.5594}}},
{"data": {"values": [{}]}, "mark": {"type": "rule", "color": "#3d8fe0", "strokeDash": [4, 3]},
 "encoding": {"x": {"datum": 45}, "y": {"datum": 140.9178}, "y2": {"datum": 140.5594}}},
{"data": {"values": [{}]}, "mark": {"type": "rule", "color": "#8b008b", "strokeWidth": 1},
 "encoding": {"x": {"datum": 48}, "y": {"datum": 140.9246}, "y2": {"datum": 140.8937}}},
{"data": {"values": [{}]}, "mark": {"type": "rule", "color": "#8b008b", "strokeWidth": 1},
 "encoding": {"x": {"datum": 65}, "y": {"datum": 140.9}, "y2": {"datum": 140.8726}}},
{"data": {"name": "c"}, "mark": {"type": "rule", "color": "#00ff00", "strokeWidth": 1},
 "encoding": {"x": {"field": "i", "type": "quantitative"}, "y": {"field": "l", "type": "quantitative"}, "y2": {"field": "h"}}},
{"data": {"name": "c"}, "mark": {"type": "bar", "width": 5, "stroke": "#00ff00", "strokeWidth": 1},
 "encoding": {"x": {"field": "i", "type": "quantitative"}, "y": {"field": "o", "type": "quantitative"}, "y2": {"field": "c"},
  "fill": {"condition": {"test": "datum.c < datum.o", "value": "white"}, "value": "black"}}},
{"data": {"name": "red"}, "mark": {"type": "line", "color": "#dc143c", "strokeWidth": 2},
 "encoding": {"x": {"field": "i", "type": "quantitative"}, "y": {"field": "v", "type": "quantitative"}}},
{"data": {"values": [{}]}, "mark": {"type": "point", "shape": "triangle-down", "filled": true, "color": "#8a8f99", "size": 26, "opacity": 1},
 "encoding": {"x": {"datum": 54.1}, "y": {"datum": 141.0194}}},
{"data": {"values": [{}]}, "mark": {"type": "text", "color": "white", "fontSize": 10, "align": "left", "baseline": "middle"},
 "encoding": {"x": {"datum": 0.6}, "y": {"datum": 141.0166}, "text": {"value": "▼  GBPJPY,M1"}}},
{"data": {"values": [{}]}, "mark": {"type": "rect", "color": "#1463e0"},
 "encoding": {"x": {"datum": 0.5}, "x2": {"datum": 16.5}, "y": {"datum": 141.0103}, "y2": {"datum": 140.9955}}},
{"data": {"values": [{}]}, "mark": {"type": "text", "color": "white", "fontSize": 13, "align": "left", "baseline": "middle"},
 "encoding": {"x": {"datum": 0.9}, "y": {"datum": 141.0029}, "text": {"value": "StrengthHAMMA-Ind"}}},
{"data": {"values": [{}]}, "mark": {"type": "text", "color": "#ff0000", "fontSize": 17, "fontWeight": "bold", "font": "DejaVu Sans", "align": "center", "baseline": "middle"},
 "encoding": {"x": {"datum": 44.96}, "y": {"datum": 140.9815}, "text": {"value": "wrong signal"}}},
{"data": {"values": [{}]}, "mark": {"type": "text", "color": "#ff0000", "fontSize": 16, "font": "DejaVu Sans", "align": "center", "baseline": "middle"},
 "encoding": {"x": {"datum": 44.9}, "y": {"datum": 140.9611}, "text": {"value": "(closing under"}}},
{"data": {"values": [{}]}, "mark": {"type": "text", "color": "#ff0000", "fontSize": 16, "font": "DejaVu Sans", "align": "center", "baseline": "middle"},
 "encoding": {"x": {"datum": 45.1}, "y": {"datum": 140.9414}, "text": {"value": "the MA)"}}},
{"data": {"values": [{}]}, "mark": {"type": "rect", "color": "#7080e0"},
 "encoding": {"x": {"datum": -1.75}, "x2": {"datum": -1.375}, "y": {"datum": 141.0215}, "y2": {"datum": 140.5454}}},
{"data": {"values": [{}]}, "mark": {"type": "rect", "color": "#2f55dd"},
 "encoding": {"x": {"datum": -1.375}, "x2": {"datum": -0.5}, "y": {"datum": 141.0215}, "y2": {"datum": 140.5454}}},
{"data": {"values": [{}]}, "mark": {"type": "rect", "color": "#a0a4ac"},
 "encoding": {"x": {"datum": -0.5}, "x2": {"datum": -0.125}, "y": {"datum": 141.0215}, "y2": {"datum": 140.5454}}},
{"data": {"values": [{}]}, "mark": {"type": "rule", "color": "white", "strokeWidth": 1},
 "encoding": {"x": {"datum": -0.06}, "y": {"datum": 141.0215}, "y2": {"datum": 140.5594}}}
]
}
]
}
